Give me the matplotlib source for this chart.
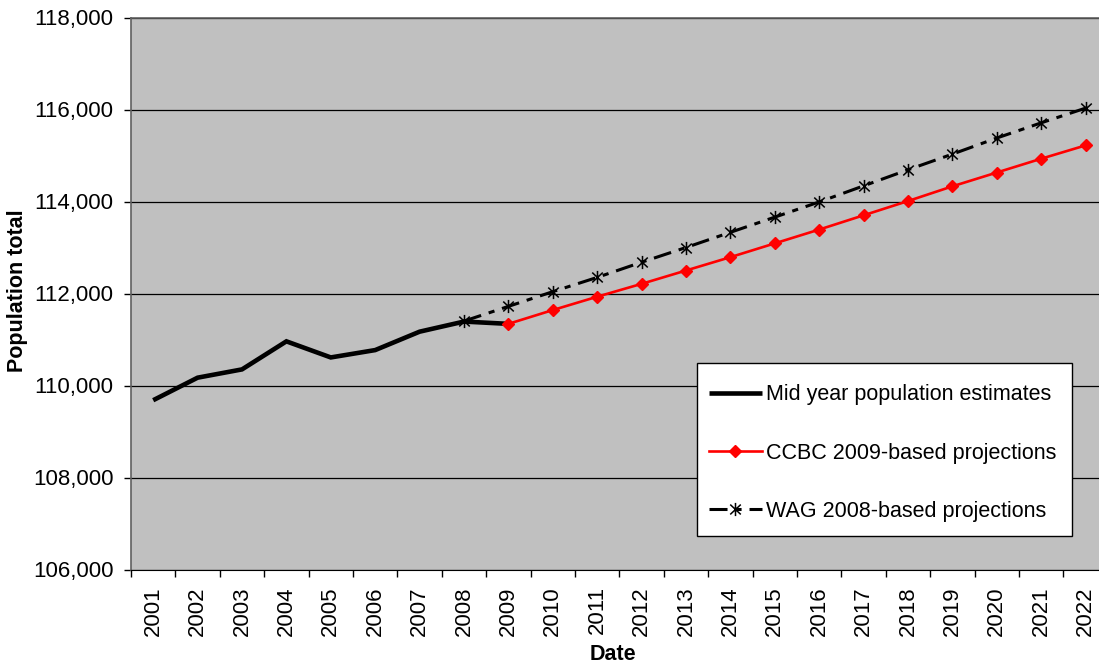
import matplotlib
matplotlib.use("Agg")
import matplotlib.pyplot as plt
from matplotlib.path import Path
from matplotlib.patches import Rectangle
from matplotlib.ticker import FuncFormatter, FixedLocator

plt.rcParams['font.family'] = ['Liberation Sans', 'DejaVu Sans']

years = list(range(2001, 2023))

# mid-year estimates 2001-2009
est_years = list(range(2001, 2010))
est_values = [109680, 110170, 110350, 110960, 110610, 110770, 111170, 111390, 111340]

# CCBC 2009-based projections
ccbc_years = list(range(2009, 2023))
ccbc_values = [111340, 111640, 111930, 112210, 112500, 112790, 113090,
               113390, 113700, 114010, 114330, 114630, 114930, 115220]

# WAG 2008-based projections
wag_years = list(range(2008, 2023))
wag_values = [111400, 111720, 112040, 112350, 112680, 113000, 113330, 113660,
              113990, 114340, 114690, 115030, 115380, 115710, 116030]

def pos(ys):
    return [years.index(y) for y in ys]

# excel-style star: vertical stroke plus an X
star = Path([(0, -1), (0, 1), (-0.8, -0.75), (0.8, 0.75), (-0.8, 0.75), (0.8, -0.75)],
            [Path.MOVETO, Path.LINETO, Path.MOVETO, Path.LINETO, Path.MOVETO, Path.LINETO])

W, H = 1099, 666
fig = plt.figure(figsize=(W / 100, H / 100), dpi=100)
fig.patch.set_facecolor('white')

left, right, top, bottom = 131, 131 + 22 * 44.4, 17.5, 569.5
ax = fig.add_axes([left / W, 1 - bottom / H, (right - left) / W, (bottom - top) / H])
ax.set_facecolor('#C0C0C0')

l1, = ax.plot(pos(est_years), est_values, color='black', lw=3.3, solid_capstyle='butt',
              solid_joinstyle='miter', zorder=3, label='Mid year population estimates')
l2, = ax.plot(pos(ccbc_years), ccbc_values, color='#FF0000', lw=1.9, marker='D', ms=6,
              mec='#FF0000', mfc='#FF0000', zorder=4, label='CCBC 2009-based projections')
l3, = ax.plot(pos(wag_years), wag_values, color='black', lw=2.2, dashes=(5.9, 2.6, 2.0, 2.6),
              marker=star, ms=9.5, mew=1.1, mec='black', mfc='none', zorder=5,
              label='WAG 2008-based projections')

ax.set_xlim(-0.5, 21.5)
ax.set_ylim(106000, 118000)
ax.set_yticks(range(106000, 118001, 2000))
ax.yaxis.set_major_formatter(FuncFormatter(lambda v, p: f"{int(v):,}"))
ax.grid(axis='y', color='black', lw=0.9)
ax.set_axisbelow(True)

ax.set_xticks(range(len(years)))
ax.set_xticklabels([str(y) for y in years], rotation=90)
ax.tick_params(axis='x', which='major', length=0, pad=12, labelsize=16)
ax.xaxis.set_minor_locator(FixedLocator([i - 0.5 for i in range(len(years) + 1)]))
ax.tick_params(axis='x', which='minor', length=5, width=1, color='black')
ax.tick_params(axis='y', length=5, width=1, color='black', labelsize=16, pad=7.5)

for s in ['top', 'left']:
    ax.spines[s].set_color('#606060')
    ax.spines[s].set_linewidth(1.2)
ax.spines['bottom'].set_color('black')
ax.spines['right'].set_visible(False)

fig.text(18 / W, 1 - 291 / H, 'Population total', rotation=90, ha='center', va='center',
         fontsize=15.5, fontweight='bold')
fig.text(613 / W, 1 - 655 / H, 'Date', ha='center', va='center', fontsize=15.5, fontweight='bold')

# legend box drawn separately so its padding can be set freely
bx0, bx1, by0, by1 = 697, 1072, 363, 536
fig.patches.append(Rectangle((bx0 / W, 1 - by1 / H), (bx1 - bx0) / W, (by1 - by0) / H,
                             transform=fig.transFigure, facecolor='white',
                             edgecolor='black', lw=1.0, zorder=2))
fig.legend(handles=[l1, l2, l3], loc='center left',
           bbox_to_anchor=(709 / W, 1 - 453 / H), bbox_transform=fig.transFigure,
           borderaxespad=0, borderpad=0, frameon=False, fontsize=15.5,
           handlelength=2.45, handletextpad=0.2, labelspacing=1.72)

fig.savefig('out.png', dpi=100)
